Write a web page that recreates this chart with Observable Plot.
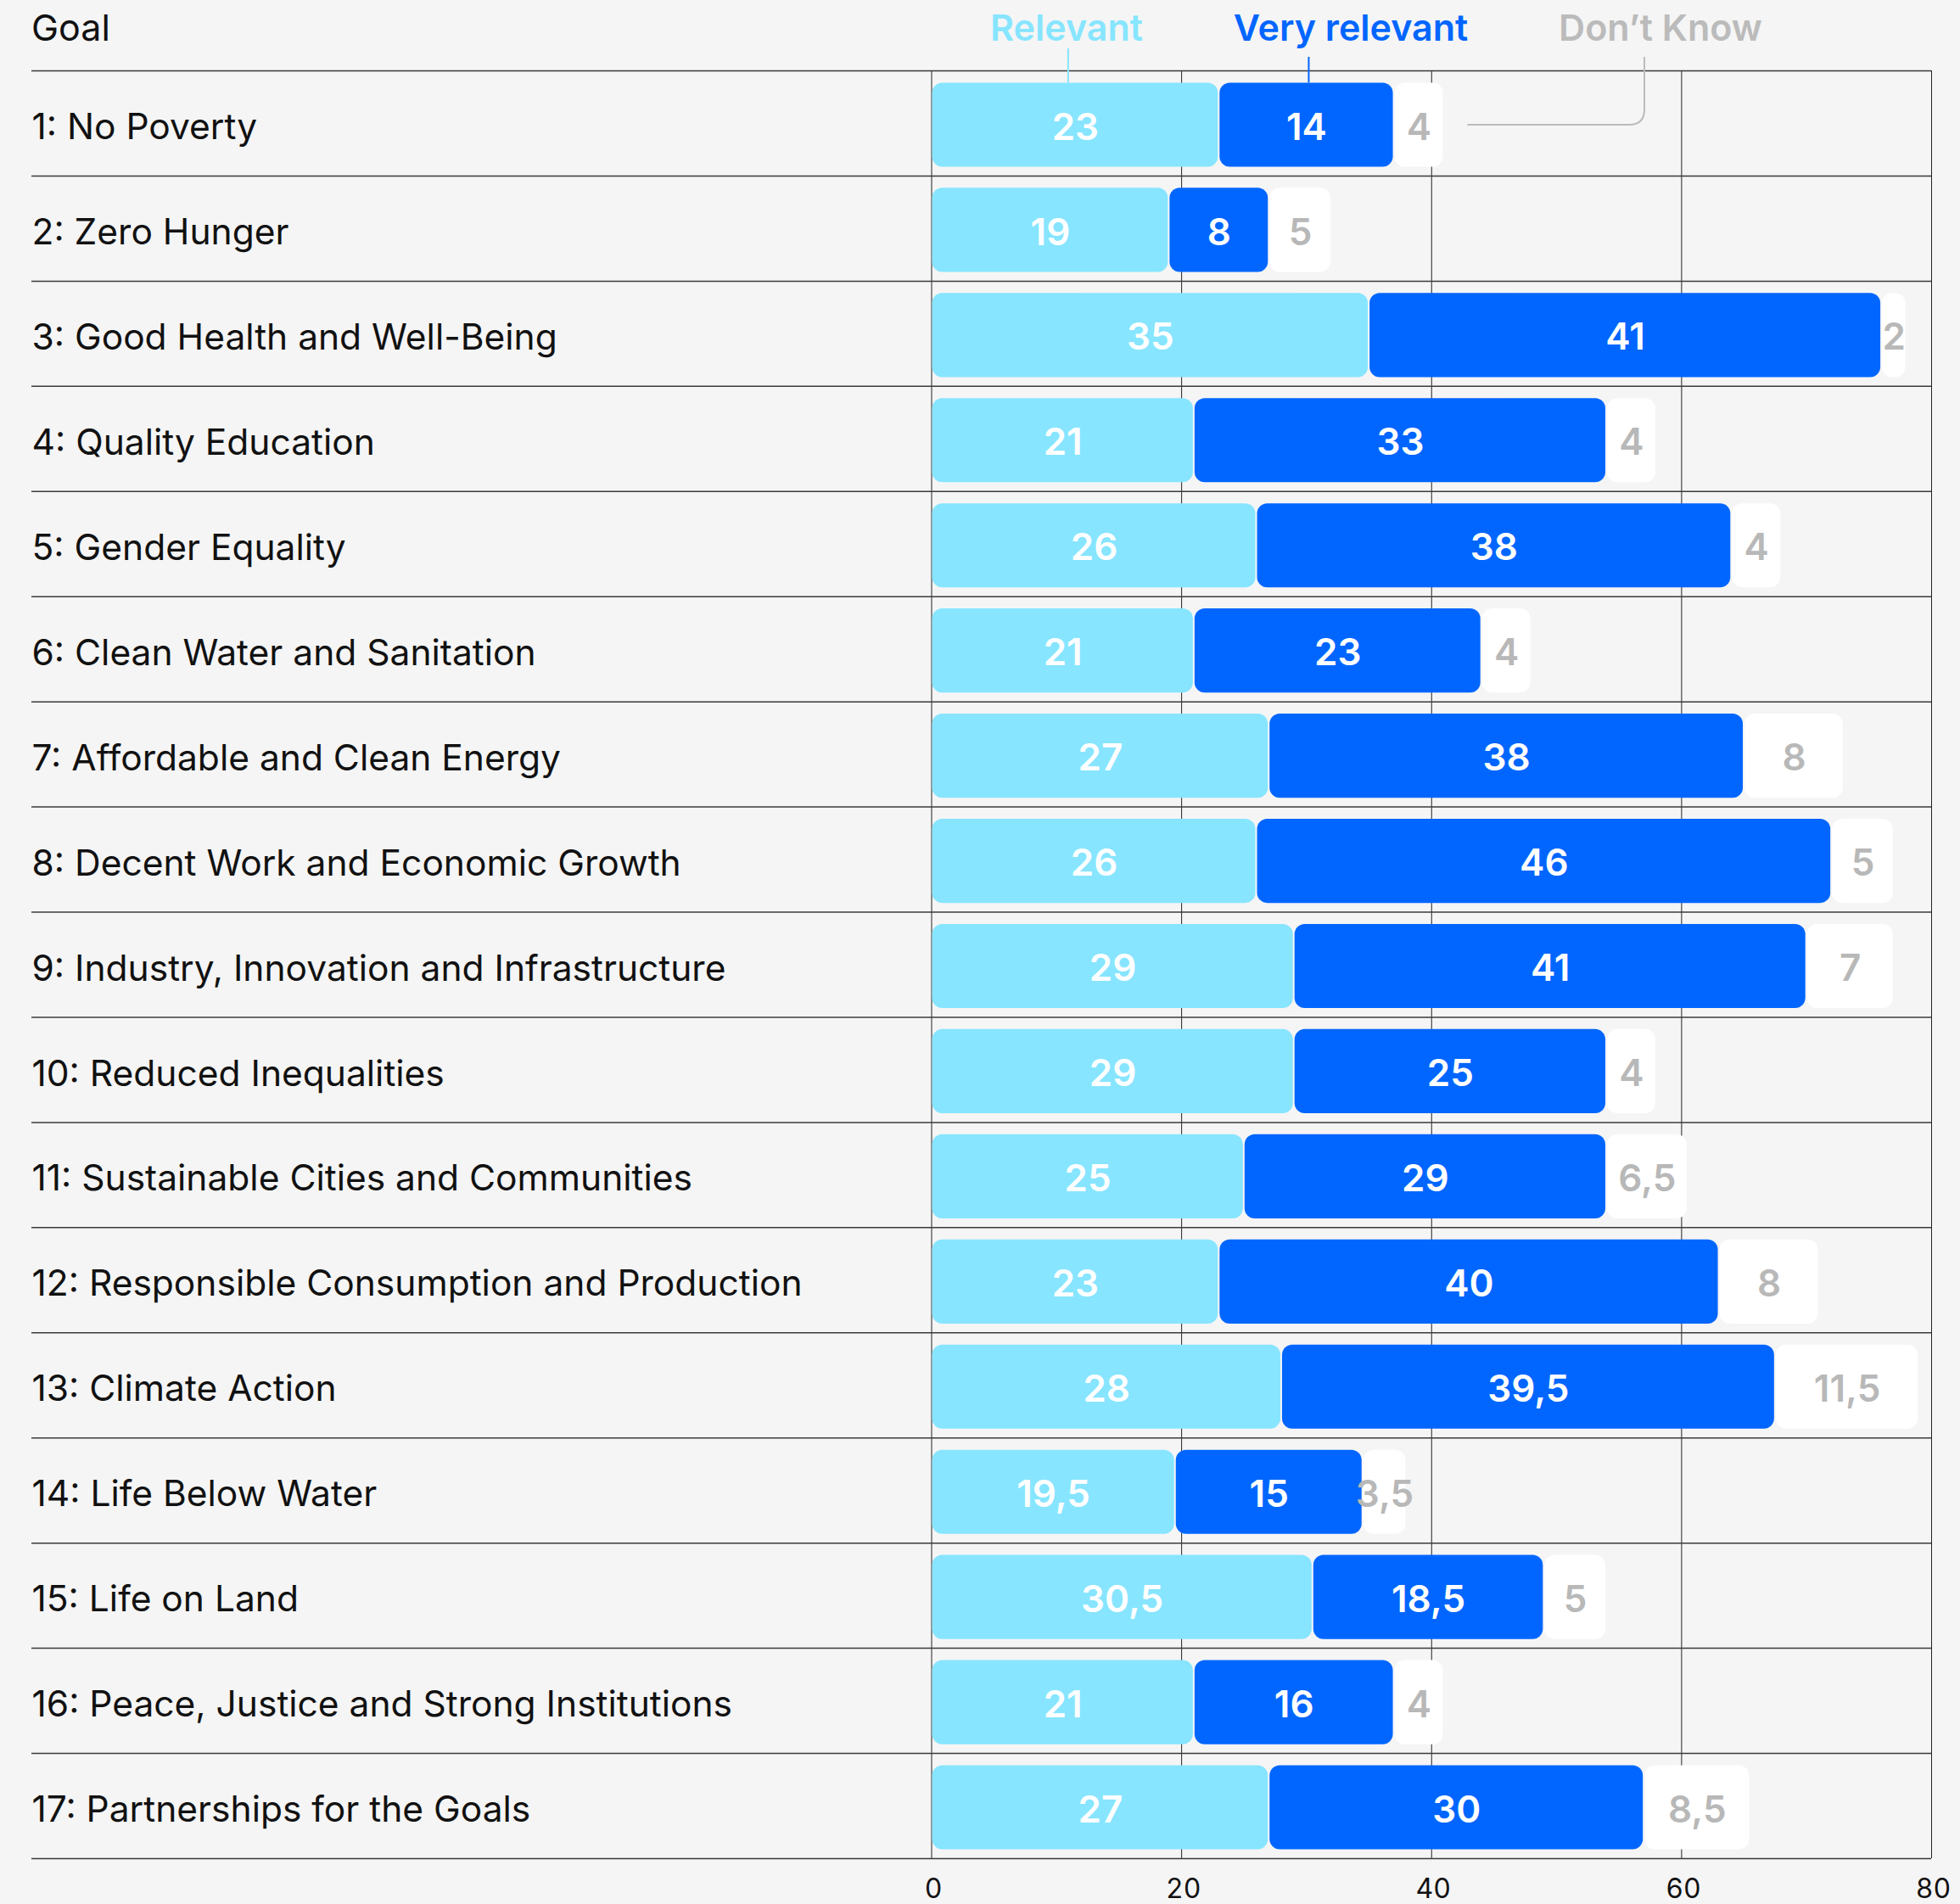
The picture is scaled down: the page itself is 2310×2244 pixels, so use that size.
<!DOCTYPE html>
<html>
<head>
<meta charset="utf-8">
<script src="https://cdn.jsdelivr.net/npm/d3@7"></script>
<script src="https://cdn.jsdelivr.net/npm/@observablehq/plot@0.6"></script>
<style>
html, body { margin: 0; padding: 0; background: #f5f5f5; }
#chart { width: 2310px; height: 2244px; }
</style>
</head>
<body>
<div id="chart"></div>
<script>
const goals = [
  "1: No Poverty",
  "2: Zero Hunger",
  "3: Good Health and Well-Being",
  "4: Quality Education",
  "5: Gender Equality",
  "6: Clean Water and Sanitation",
  "7: Affordable and Clean Energy",
  "8: Decent Work and Economic Growth",
  "9: Industry, Innovation and Infrastructure",
  "10: Reduced Inequalities",
  "11: Sustainable Cities and Communities",
  "12: Responsible Consumption and Production",
  "13: Climate Action",
  "14: Life Below Water",
  "15: Life on Land",
  "16: Peace, Justice and Strong Institutions",
  "17: Partnerships for the Goals"
];
const relevant     = [23, 19, 35, 21, 26, 21, 27, 26, 29, 29, 25, 23, 28, 19.5, 30.5, 21, 27];
const veryRelevant = [14, 8, 41, 33, 38, 23, 38, 46, 41, 25, 29, 40, 39.5, 15, 18.5, 16, 30];
const dontKnow     = [4, 5, 2, 4, 4, 4, 8, 5, 7, 4, 6.5, 8, 11.5, 3.5, 5, 4, 8.5];
const categories = ["Relevant", "Very relevant", "Don\u2019t Know"];
const xTicks = [0, 20, 40, 60, 80];
const headerLabel = "Goal";

const barColors = ["#87E5FF", "#0066FF", "#FFFFFF"];
const labelColors = ["#FFFFFF", "#FFFFFF", "#B8B8B8"];
const legendColors = ["#87E5FF", "#0066FF", "#BBBBBB"];

const series = [relevant, veryRelevant, dontKnow];
const rows = goals.flatMap((g, i) => categories.map((c, j) => ({goal: g, category: c, value: series[j][i]})));
const fmt = v => String(v).replace(".", ",");

const W = 2310, H = 2244, mL = 37, mR = 34, mT = 83, mB = 54;
const xStart = 1097.5;
const step = (H - mT - mB) / goals.length;
const lineColor = "#3a3a3a";
const font = "Inter, 'Noto Sans', sans-serif";

const chart = Plot.plot({
  width: W, height: H,
  marginLeft: mL, marginRight: mR, marginTop: mT, marginBottom: mB,
  style: {background: "#f5f5f5", fontFamily: font, color: "#111"},
  x: {domain: [0, 80], range: [xStart, W - mR], axis: null, label: null},
  y: {domain: goals, paddingInner: 0.2, paddingOuter: 0.1, round: false, axis: null},
  color: {domain: categories, range: barColors},
  marks: [
    Plot.ruleX(xTicks, {stroke: "#222", strokeWidth: 1}),
    Plot.ruleY(goals, {y: d => d, dy: step / 2, stroke: lineColor, strokeWidth: 1.5}),
    Plot.ruleY(goals.slice(0, 1), {y: d => d, dy: -step / 2, stroke: lineColor, strokeWidth: 1.5}),
    Plot.barX(rows, Plot.stackX({x: "value", y: "goal", fill: "category", rx: 12, insetLeft: 1, insetRight: 1, dy: 2})),
    ...categories.map((c, j) => Plot.text(rows, Plot.filter(d => d.category === c,
      Plot.stackX({x: "value", y: "goal", text: d => fmt(d.value), fill: labelColors[j], fontSize: 44, fontWeight: 600, dy: 5})))),
    Plot.text(goals, {y: d => d, text: d => d, frameAnchor: "left", textAnchor: "start", fontSize: 42.5, fill: "#111", dy: 5}),
    Plot.axisX(xTicks, {tickSize: 0, tickPadding: 24, fontSize: 32, fill: "#111", label: null, dx: 2})
  ]
});

document.getElementById("chart").appendChild(chart);

// Header, legend and leader lines
const svg = d3.select(chart);
const xs = chart.scale("x"), ys = chart.scale("y");
const bandTop = ys.apply(goals[0]) + 2;
const bandMid = bandTop + ys.bandwidth / 2;

svg.append("text").attr("x", mL).attr("y", 48).attr("text-anchor", "start")
  .attr("font-size", 43).attr("font-family", font)
  .attr("fill", "#111").text(headerLabel);

const legendX = [1257, 1592, 1957];
categories.forEach((c, j) => {
  svg.append("text").attr("x", legendX[j]).attr("y", 48).attr("text-anchor", "middle")
    .attr("font-size", 43).attr("font-weight", 600).attr("font-family", font)
    .attr("fill", legendColors[j]).text(c);
});

const relX = xs.apply(relevant[0] / 2) - 8;
const vrX = xs.apply(relevant[0] + veryRelevant[0] / 2) + 3;
svg.append("line").attr("x1", relX).attr("x2", relX).attr("y1", 57).attr("y2", bandTop)
  .attr("stroke", legendColors[0]).attr("stroke-width", 2);
svg.append("line").attr("x1", vrX).attr("x2", vrX).attr("y1", 67).attr("y2", bandTop)
  .attr("stroke", legendColors[1]).attr("stroke-width", 2);

const dkEnd = xs.apply(relevant[0] + veryRelevant[0] + dontKnow[0]) + 28;
const vx = 1938, r = 18;
svg.append("path")
  .attr("d", `M${dkEnd},${bandMid} L${vx - r},${bandMid} Q${vx},${bandMid} ${vx},${bandMid - r} L${vx},67`)
  .attr("fill", "none").attr("stroke", legendColors[2]).attr("stroke-width", 2);
</script>
</body>
</html>
